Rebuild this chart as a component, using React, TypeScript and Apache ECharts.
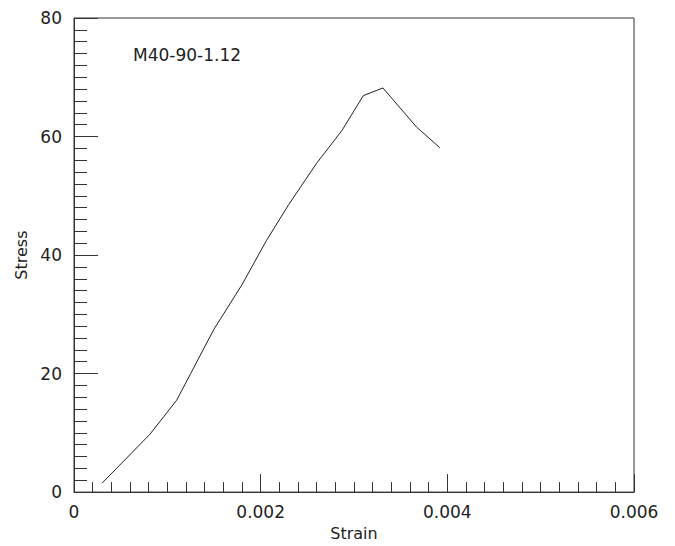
import React, { useEffect, useRef } from "react";
import * as echarts from "echarts";

const strain = [0.0003, 0.00081, 0.0011, 0.00125, 0.0015, 0.0018, 0.00206, 0.0023, 0.0026, 0.00287, 0.0031, 0.00331, 0.00367, 0.00392];
const stress = [1.5, 9.7, 15.5, 20, 27.5, 35, 42.4, 48.5, 55.5, 61, 66.9, 68.2, 61.6, 58.1];
const title = "M40-90-1.12";

export default function App() {
  const ref = useRef<HTMLDivElement>(null);
  useEffect(() => {
    const chart = echarts.init(ref.current!, null, { renderer: "svg" });
    const font = "'DejaVu Sans', sans-serif";
    const lineColor = "#333";
    chart.setOption({
      animation: false,
      backgroundColor: "#fff",
      grid: { left: 74, right: 41, top: 18, bottom: 48, show: true, borderColor: lineColor, borderWidth: 1 },
      graphic: [
        { type: "text", left: 133, top: 46, style: { text: title, font: `17px ${font}`, fill: "#222" } },
      ],
      xAxis: {
        type: "value",
        min: 0,
        max: 0.006,
        interval: 0.002,
        name: "Strain",
        nameLocation: "middle",
        nameGap: 32,
        nameTextStyle: { fontFamily: font, fontSize: 16, color: "#222" },
        axisLine: { show: true, lineStyle: { color: lineColor } },
        axisTick: { show: true, inside: true, length: 18, lineStyle: { color: lineColor } },
        minorTick: { show: true, splitNumber: 10, length: 10, lineStyle: { color: lineColor } },
        axisLabel: { fontFamily: font, fontSize: 17, color: "#222", margin: 11, formatter: (v: number) => (v === 0 ? "0" : String(+v.toFixed(4))) },
        splitLine: { show: false },
      },
      yAxis: {
        type: "value",
        min: 0,
        max: 80,
        interval: 20,
        name: "Stress",
        nameLocation: "middle",
        nameGap: 41,
        nameTextStyle: { fontFamily: font, fontSize: 16, color: "#222" },
        axisLine: { show: true, lineStyle: { color: lineColor } },
        axisTick: { show: true, inside: true, length: 24, lineStyle: { color: lineColor } },
        minorTick: { show: true, splitNumber: 10, length: 13, lineStyle: { color: lineColor } },
        axisLabel: { fontFamily: font, fontSize: 17, color: "#222", margin: 12 },
        splitLine: { show: false },
      },
      series: [
        {
          type: "line",
          data: strain.map((x, i) => [x, stress[i]]),
          showSymbol: false,
          lineStyle: { color: "#222", width: 1 },
        },
      ],
    });
    return () => chart.dispose();
  }, []);
  return <div ref={ref} style={{ width: 675, height: 546, position: "absolute", left: 0, top: 0 }} />;
}
